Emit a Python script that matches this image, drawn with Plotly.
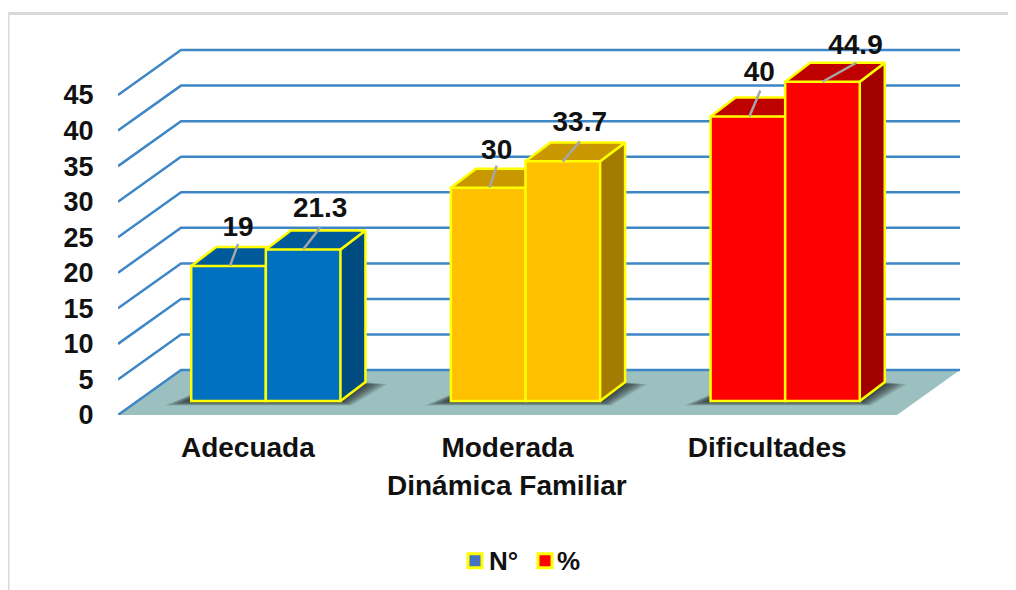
import plotly.graph_objects as go

categories = ['Adecuada', 'Moderada', 'Dificultades']
numero = [19, 30, 40]
porcentaje = [21.3, 33.7, 44.9]
y_ticks = [0, 5, 10, 15, 20, 25, 30, 35, 40, 45]

front_colors = ['#0070C0', '#FFC000', '#FF0000']
top_colors = ['#005A9A', '#C99700', '#BF0000']
side_colors = ['#004B80', '#A37B00', '#A00000']

# label offsets from the top of each bar, in pixels
label_dx = [[8, 17], [7, 17], [10, 33]]
label_dy = [[37, 40], [36, 37], [43, 35]]
leader_dx = [[8, 17], [7, 17], [11, 34]]
leader_dy = [[22, 22], [22, 20], [26, 19]]
leader_from = [0.52, 0.5]

PAGE = 8  # the page body margin
W, H = 1016, 590
LEFT, RIGHT, BOTTOM = 118, 960, 415
PX = 259.67  # pixels per category
PY = 7.12  # pixels per unit
y_max = 54
TOP = BOTTOM - y_max * PY
wall_dx, wall_dy = 63 / PX, 45 / PY
bar_dx, bar_dy = 25 / PX, 19 / PY
base = 14 / PY
bar_w = 74.6 / PX
mid_shift = 18 / PX
x_min, x_max = -0.5, 2.5 + wall_dx
plot_w = RIGHT - LEFT
plot_h = BOTTOM - TOP


def px_x(p):
    return (p - LEFT) / plot_w


def px_y(p):
    return (BOTTOM - p) / plot_h


fig = go.Figure()


def poly(xs, ys, color, z, line=None, width=2.5):
    fig.add_trace(go.Scatter(
        x=xs, y=ys, mode='lines', fill='toself', fillcolor=color,
        line=dict(color=line or 'rgba(0,0,0,0)', width=width),
        hoverinfo='skip', showlegend=False, cliponaxis=False, zorder=z,
    ))


# floor and back wall lines
poly([-0.5, -0.5 + wall_dx, x_max, 2.5], [0, wall_dy, wall_dy, 0], '#9BC0BF', 0)
for t in y_ticks:
    fig.add_trace(go.Scatter(
        x=[-0.5, -0.5 + wall_dx, x_max], y=[t, t + wall_dy, t + wall_dy],
        mode='lines', line=dict(color='#3F86C6', width=2.5),
        hoverinfo='skip', showlegend=False, cliponaxis=False, zorder=0,
    ))

# soft shadow on the floor behind each pair of bars
for i in range(3):
    x0 = i + mid_shift - bar_w
    x1 = i + mid_shift + bar_w
    for k in range(10):
        grow = (10 - k) * 2.2 / PX
        drop = (10 - k) * 0.45 / PY
        poly([x0 - grow * 1.2, x0 + bar_dx, x1 + bar_dx + grow, x1 + grow * 0.5],
             [base - drop, base + bar_dy - drop * 0.5, base + bar_dy - drop * 0.5, base - drop],
             'rgba(20,20,20,0.11)', 1)

# the bars: sides and tops from the values, fronts as real bars
z = 2
for i in range(3):
    for j, series in enumerate([numero, porcentaje]):
        v = series[i]
        x0 = i + mid_shift - bar_w + j * bar_w
        x1 = x0 + bar_w
        top = base + v
        poly([x1, x1 + bar_dx, x1 + bar_dx, x1], [base, base + bar_dy, top + bar_dy, top],
             side_colors[i], z, '#FFFF00')
        poly([x0, x0 + bar_dx, x1 + bar_dx, x1], [top, top + bar_dy, top + bar_dy, top],
             top_colors[i], z, '#FFFF00')
        fig.add_trace(go.Bar(
            x=[x0 + bar_w / 2], y=[v], base=[base], width=[bar_w],
            marker=dict(color=front_colors[i], line=dict(color='#FFFF00', width=2.5)),
            hoverinfo='skip', showlegend=False, cliponaxis=False, zorder=z + 1,
        ))
        z += 2

# data labels with leader lines
for i in range(3):
    for j, series in enumerate([numero, porcentaje]):
        v = series[i]
        x0 = i + mid_shift - bar_w + j * bar_w + leader_from[j] * bar_w
        top = base + v
        fig.add_trace(go.Scatter(
            x=[x0, x0 + leader_dx[i][j] / PX], y=[top, top + leader_dy[i][j] / PY],
            mode='lines', line=dict(color='#A6A6A6', width=2.5),
            hoverinfo='skip', showlegend=False, cliponaxis=False, zorder=z,
        ))
        fig.add_trace(go.Scatter(
            x=[x0 + label_dx[i][j] / PX], y=[top + label_dy[i][j] / PY],
            mode='text', text=[str(v)],
            textfont=dict(family='Liberation Sans', size=28, color='#111111', weight='bold'),
            hoverinfo='skip', showlegend=False, cliponaxis=False, zorder=z,
        ))

# legend drawn by hand so the swatches sit close to their text
shapes = [
    dict(type='line', xref='paper', yref='paper', x0=px_x(8), x1=px_x(8),
         y0=px_y(600), y1=px_y(13), line=dict(color='#D9D9D9', width=3)),
    dict(type='line', xref='paper', yref='paper', x0=px_x(8), x1=px_x(1020),
         y0=px_y(13), y1=px_y(13), line=dict(color='#D9D9D9', width=3)),
]
annotations = [dict(
    xref='paper', yref='paper', x=px_x(507), y=px_y(486), text='Dinámica Familiar',
    showarrow=False, xanchor='center', yanchor='middle', font=dict(size=28, weight='bold'),
)]
for name, color, sx, tx in [('N°', '#4472C4', 475, 489), ('%', '#FF0000', 545, 557)]:
    shapes.append(dict(
        type='rect', xref='paper', yref='paper', x0=px_x(sx - 7), x1=px_x(sx + 7),
        y0=px_y(568), y1=px_y(554), fillcolor=color, line=dict(color='#FFFF00', width=3),
    ))
    annotations.append(dict(
        xref='paper', yref='paper', x=px_x(tx), y=px_y(561), text=name, showarrow=False,
        xanchor='left', yanchor='middle', borderpad=0, borderwidth=0,
        font=dict(size=26, weight='bold'),
    ))

fig.update_layout(
    width=W - PAGE, height=H - PAGE,
    margin=dict(l=LEFT - PAGE, r=W - RIGHT, t=TOP - PAGE, b=H - BOTTOM, pad=0, autoexpand=False),
    paper_bgcolor='white', plot_bgcolor='white',
    barmode='overlay', showlegend=False,
    font=dict(family='Liberation Sans', color='#111111'),
    xaxis=dict(
        range=[x_min, x_max], tickvals=[0, 1, 2], ticktext=categories,
        tickfont=dict(size=28, weight='bold'), showgrid=False, zeroline=False,
        showline=False, ticks='outside', ticklen=7, tickcolor='rgba(0,0,0,0)',
    ),
    yaxis=dict(
        range=[0, y_max], tickvals=y_ticks,
        tickfont=dict(size=27, weight='bold'), showgrid=False, zeroline=False,
        showline=False, ticks='outside', ticklen=18, tickcolor='rgba(0,0,0,0)',
    ),
    shapes=shapes,
    annotations=annotations,
)

fig.write_html('out.html')
